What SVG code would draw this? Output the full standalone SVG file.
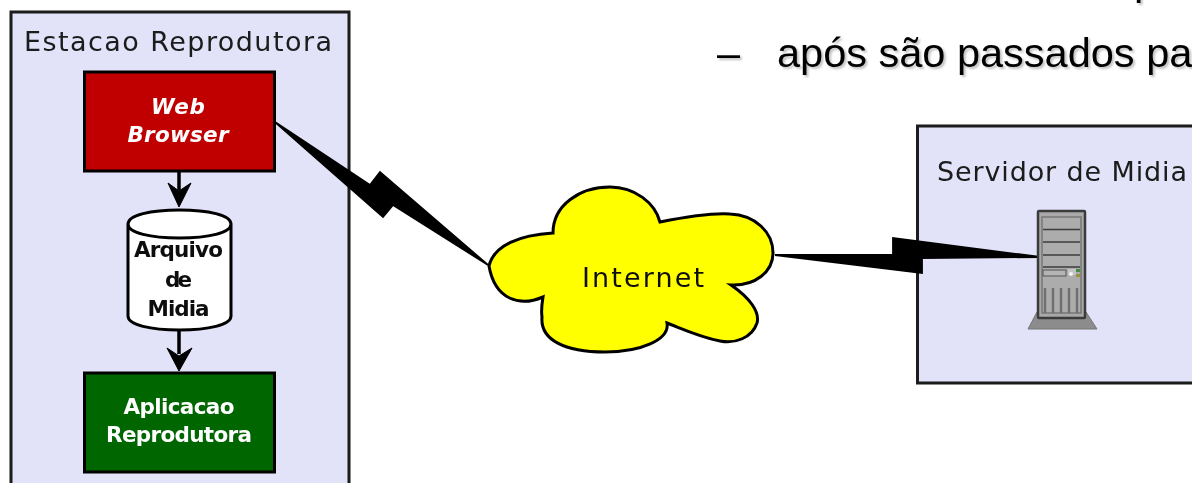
<svg xmlns="http://www.w3.org/2000/svg" width="1192" height="483" viewBox="0 0 1192 483">
<defs>
<filter id="soft" x="-5%" y="-5%" width="110%" height="110%"><feGaussianBlur stdDeviation="0.7"/></filter>
<filter id="shadow" x="-5%" y="-20%" width="110%" height="140%"><feDropShadow dx="2" dy="2" stdDeviation="1" flood-color="#000" flood-opacity="0.25"/></filter>
</defs>
<style>
.panel{fill:#e2e2f8;stroke:#1a1a1a;stroke-width:3}
.box{stroke:#000;stroke-width:3}
.dj{font-family:"DejaVu Sans",sans-serif}
.title{font-size:27px;fill:#1a1a1a}
.lbl{font-size:21.500px;font-weight:bold;text-anchor:middle}
.w{fill:#fff}
.k{fill:#111}
.bolt{fill:#000;stroke:#000;stroke-width:1.800}
.slide{font-family:"Liberation Sans",Arial,sans-serif;font-size:41.500px;fill:#000;filter:url(#shadow)}
.bar{stroke:#3c3c3c;stroke-width:1.500;fill:none}
.vent{stroke:#707070;stroke-width:2.500}
</style>
<rect width="1192" height="483" fill="#fff"/>
<g id="slide-text">
<text class="slide" x="1134" y="-5">p</text>
<text class="slide" x="717" y="67">–</text>
<text class="slide" x="777" y="67">após são passados pa</text>
</g>
<g filter="url(#soft)">
<g id="estacao-reprodutora">
<rect class="panel" x="11" y="12" width="338" height="490"/>
<text class="dj title" x="24" y="51" textLength="308">Estacao Reprodutora</text>
</g>
<g id="servidor-de-midia">
<rect class="panel" x="917.500" y="126" width="300" height="257"/>
<text class="dj title" x="937" y="181" textLength="250">Servidor de Midia</text>
</g>
<g id="connectors">
<path d="M179 171V190M179 330V354" stroke="#000" stroke-width="3.500" fill="none"/>
<path d="M179 207L168 183L179 191L191 183Z" fill="#000" stroke="#000"/>
<path d="M179 371L167 348L179 356L192 348Z" fill="#000" stroke="#000"/>
<path class="bolt" d="M275 122L370 185L380 172L488 265L393 205L383 217Z"/>
<path class="bolt" d="M775 255L893 255L893 238L1040 257L922 258L922 273Z"/>
</g>
<g id="web-browser">
<rect class="box" x="84.500" y="72" width="190" height="99" fill="#c00000"/>
<text class="dj lbl w" x="178" y="114" font-style="italic" textLength="54">Web</text>
<text class="dj lbl w" x="178" y="142" font-style="italic" textLength="101">Browser</text>
</g>
<g id="arquivo-de-midia">
<path class="box" fill="#fff" d="M128 224V316C128 325 151 330 179.500 330C208 330 231 325 231 316V224C231 215 208 210 179.500 210C151 210 128 215 128 224C128 233 151 238 179.500 238C208 238 231 233 231 224"/>
<text class="dj lbl k" x="178.500" y="257" textLength="89">Arquivo</text>
<text class="dj lbl k" x="178.500" y="287" textLength="27">de</text>
<text class="dj lbl k" x="178.500" y="316" textLength="62">Midia</text>
</g>
<g id="aplicacao-reprodutora">
<rect class="box" x="84.500" y="373" width="190" height="99" fill="#006600"/>
<text class="dj lbl w" x="179" y="414" textLength="111">Aplicacao</text>
<text class="dj lbl w" x="179" y="442" textLength="146">Reprodutora</text>
</g>
<g id="internet">
<path fill="#ffff00" stroke="#000" stroke-width="3" d="M489 266C494 245 520 235 553 233C553 205 580 187 610 187C635 187 655 203 660 222C690 216 715 213 730 214C755 215 773 232 773 253C773 272 755 286 731 285C750 298 760 312 757 323C752 338 735 344 720 341C700 337 685 330 667 323C670 340 640 352 605 352C565 352 540 340 542 317C541 310 542 303 543 297C520 307 495 300 489 266Z"/>
<text class="dj" x="582" y="287" font-size="27" textLength="122" fill="#111">Internet</text>
</g>
<g id="servidor">
<path d="M1037 312L1028 329H1097L1086 312Z" fill="#8c8c8c" stroke="#777" stroke-width="1"/>
<rect x="1038" y="211" width="47" height="107" rx="1" fill="#a8a8a8" stroke="#3a3a3a" stroke-width="2.500"/>
<rect x="1042" y="217" width="39" height="96" fill="#acacac" stroke="#777" stroke-width="1.500"/>
<path class="bar" d="M1043 229.500H1080M1043 242H1080M1043 255H1080M1043 267H1080"/>
<rect x="1043" y="270" width="23" height="6" fill="#b4b4b4" stroke="#555" stroke-width="1"/>
<rect x="1068" y="269" width="8" height="6" fill="#c4c4c4"/>
<circle cx="1071" cy="274" r="2" fill="#f4f4f4"/>
<rect x="1076" y="269" width="4" height="3" fill="#3f8f3f"/>
<rect x="1076" y="274" width="4" height="3" fill="#9a9040"/>
<path class="vent" d="M1045 288V313M1053 288V313M1061 288V313M1069 288V313M1077 288V313"/>
</g>
</g>
</svg>
